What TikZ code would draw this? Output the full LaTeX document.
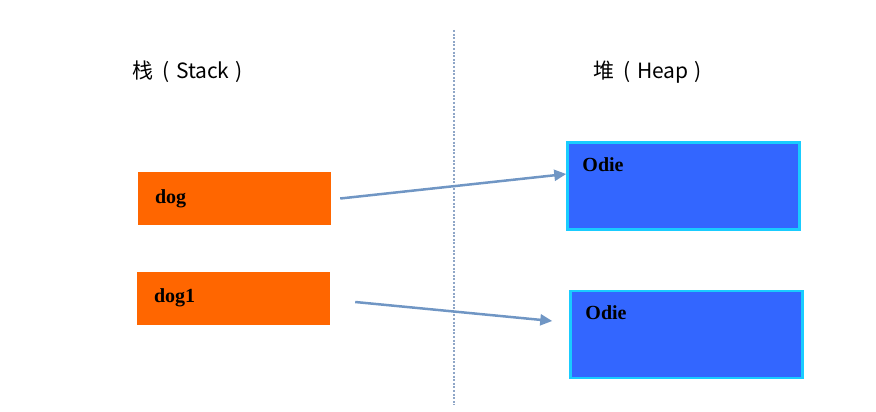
\documentclass[tikz,border=0pt]{standalone}
\usepackage{fontspec}
\usepackage{tikz}
\usetikzlibrary{arrows.meta}
\newfontfamily\cjkfont{Noto Sans CJK SC}
\newfontfamily\boxfont{Liberation Serif}
\definecolor{orng}{rgb}{1,0.4,0}
\definecolor{blu}{rgb}{0.2,0.4,1}
\definecolor{cyn}{rgb}{0.1,0.8,1}
\definecolor{arr}{rgb}{0.44,0.59,0.77}
\definecolor{dots}{rgb}{0.56,0.65,0.78}
\newcommand{\gap}{\hspace{0.3em}}

\begin{document}
\begin{tikzpicture}[x=1pt, y=-1pt,
  stackbox/.style={fill=orng, draw=none, minimum height=53pt, text width=159pt,
    inner xsep=17pt, align=left, font=\boxfont\bfseries\fontsize{20}{24}\selectfont},
  heapbox/.style={fill=blu, draw=cyn, line width=2.5pt, minimum width=232pt, minimum height=87pt},
  heaptext/.style={inner sep=0pt, font=\boxfont\bfseries\fontsize{20}{24}\selectfont},
  title/.style={font=\cjkfont\fontsize{21}{25}\selectfont, inner sep=0pt, anchor=west},
  ref/.style={draw=arr, line width=2.5pt, -{Triangle[length=12pt, width=11pt]}}]
\useasboundingbox (0,0) rectangle (876,412);
% divider
\draw[dots, line width=2pt, dash pattern=on 2pt off 1.6pt] (454,30) -- (454,405);
% titles
\node[title] (stack) at (132,72) {栈\hspace{0.45em}(\gap Stack\gap)};
\node[title] (heap) at (593,72) {堆\hspace{0.45em}(\gap Heap\gap)};
% stack
\node[stackbox] (dog) at (234.5,198.5) {dog};
\node[stackbox] (dog1) at (233.5,298) {dog1};
% heap
\node[heapbox] (odie1) at (683.5,186) {};
\node[heapbox] (odie2) at (686.5,334.5) {};
\node[heaptext, anchor=north west] (o1) at ([xshift=16pt, yshift=-16pt]odie1.north west) {Odie};
\node[heaptext, anchor=north west] (o2) at ([xshift=16pt, yshift=-16pt]odie2.north west) {Odie};
% refs
\draw[ref] ([xshift=9pt]dog.east) -- ([yshift=12pt]odie1.west);
\draw[ref] ([xshift=25pt, yshift=-4pt]dog1.east) -- ([xshift=-17pt, yshift=13.5pt]odie2.west);
\end{tikzpicture}
\end{document}
